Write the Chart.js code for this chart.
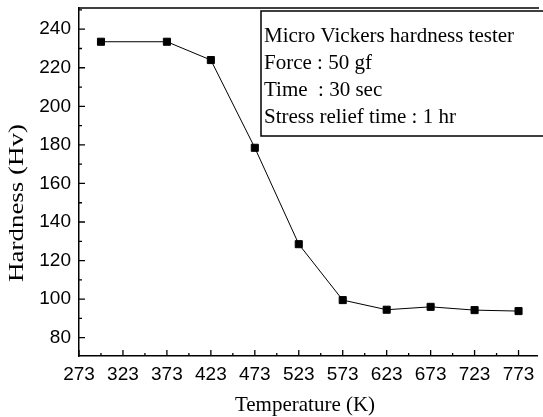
<!DOCTYPE html>
<html>
<head>
<meta charset="utf-8">
<script src="https://cdn.jsdelivr.net/npm/chart.js@4"></script>
<style>
  html, body { margin: 0; padding: 0; background: #fff; overflow: hidden; }
  #wrap { width: 543px; height: 417px; }
</style>
</head>
<body>
<div id="wrap"><canvas id="chart"></canvas></div>
<script>
// data
const temperatures = [298, 373, 423, 473, 523, 573, 623, 673, 723, 773];
const hardness = [233.5, 233.5, 224, 178.5, 128.5, 99.5, 94.5, 96, 94.3, 93.8];
const xTickLabels = [273, 323, 373, 423, 473, 523, 573, 623, 673, 723, 773];
const yTickLabels = [80, 100, 120, 140, 160, 180, 200, 220, 240];
const noteLines = [
  'Micro Vickers hardness tester',
  'Force : 50 gf',
  'Time  : 30 sec',
  'Stress relief time : 1 hr'
];

const serif = '"Liberation Serif", "Times New Roman", serif';
const sans = '"Liberation Sans", Arial, sans-serif';

// inward ticks, top frame line, note box and axis titles
const decorations = {
  id: 'decorations',
  afterDraw(chart) {
    const ctx = chart.ctx;
    const area = chart.chartArea;
    const xs = chart.scales.x;
    const ys = chart.scales.y;
    ctx.save();
    ctx.strokeStyle = '#000';
    ctx.lineWidth = 1.3;

    // top frame
    ctx.beginPath();
    ctx.moveTo(area.left, area.top);
    ctx.lineTo(area.right + 2, area.top);
    ctx.stroke();

    ctx.beginPath();
    xTickLabels.forEach(v => {
      const px = xs.getPixelForValue(v);
      ctx.moveTo(px, area.bottom);
      ctx.lineTo(px, area.bottom - 6);
      const pm = xs.getPixelForValue(v + 25);
      if (pm < area.right) {
        ctx.moveTo(pm, area.bottom);
        ctx.lineTo(pm, area.bottom - 3);
      }
    });
    yTickLabels.forEach(v => {
      const py = ys.getPixelForValue(v);
      ctx.moveTo(area.left, py);
      ctx.lineTo(area.left + 6, py);
    });
    [70, 90, 110, 130, 150, 170, 190, 210, 230, 250].forEach(v => {
      const py = ys.getPixelForValue(v);
      if (py >= area.top && py <= area.bottom) {
        ctx.moveTo(area.left, py);
        ctx.lineTo(area.left + 3, py);
      }
    });
    ctx.stroke();

    // note box
    ctx.fillStyle = '#fff';
    ctx.fillRect(261, 11, 290, 125);
    ctx.lineWidth = 1.5;
    ctx.strokeRect(261, 11, 290, 125);
    ctx.fillStyle = '#000';
    ctx.font = '21px ' + serif;
    ctx.textBaseline = 'middle';
    ctx.textAlign = 'left';
    noteLines.forEach((t, i) => {
      ctx.fillText(t, 264, 36 + i * 27);
    });

    // axis titles
    ctx.textAlign = 'center';
    ctx.font = '21px ' + serif;
    ctx.fillText('Temperature (K)', 305, 405);

    ctx.translate(17, 203);
    ctx.rotate(-Math.PI / 2);
    ctx.font = '22px ' + serif;
    const w = ctx.measureText('Hardness (Hv)').width;
    ctx.scale(158 / w, 1);
    ctx.fillText('Hardness (Hv)', 0, 0);
    ctx.restore();
  }
};

new Chart(document.getElementById('chart'), {
  type: 'line',
  data: {
    datasets: [{
      data: temperatures.map((t, i) => ({ x: t, y: hardness[i] })),
      borderColor: '#000',
      backgroundColor: '#000',
      borderWidth: 1,
      pointStyle: 'rect',
      pointRadius: 5,
      pointHoverRadius: 5,
      tension: 0
    }]
  },
  options: {
    responsive: true,
    maintainAspectRatio: false,
    animation: false,
    layout: { padding: { top: 8, right: 0, left: 0, bottom: 0 } },
    plugins: { legend: { display: false }, tooltip: { enabled: false } },
    scales: {
      x: {
        type: 'linear',
        min: 273,
        max: 794,
        afterBuildTicks: s => { s.ticks = xTickLabels.map(v => ({ value: v })); },
        afterFit: s => { s.height = 61; s.paddingLeft = 0; s.paddingRight = 0; },
        grid: { display: false, drawTicks: false },
        border: { display: true, color: '#000', width: 1.5 },
        ticks: { color: '#000', padding: 7, maxRotation: 0, autoSkip: false, font: { family: sans, size: 19 } }
      },
      y: {
        min: 70.5,
        max: 251,
        afterBuildTicks: s => { s.ticks = yTickLabels.map(v => ({ value: v })); },
        afterFit: s => { s.width = 79; s.paddingTop = 0; s.paddingBottom = 0; },
        grid: { display: false, drawTicks: false },
        border: { display: true, color: '#000', width: 1.5 },
        ticks: { color: '#000', padding: 8, autoSkip: false, font: { family: sans, size: 19 } }
      }
    }
  },
  plugins: [decorations]
});
</script>
</body>
</html>
